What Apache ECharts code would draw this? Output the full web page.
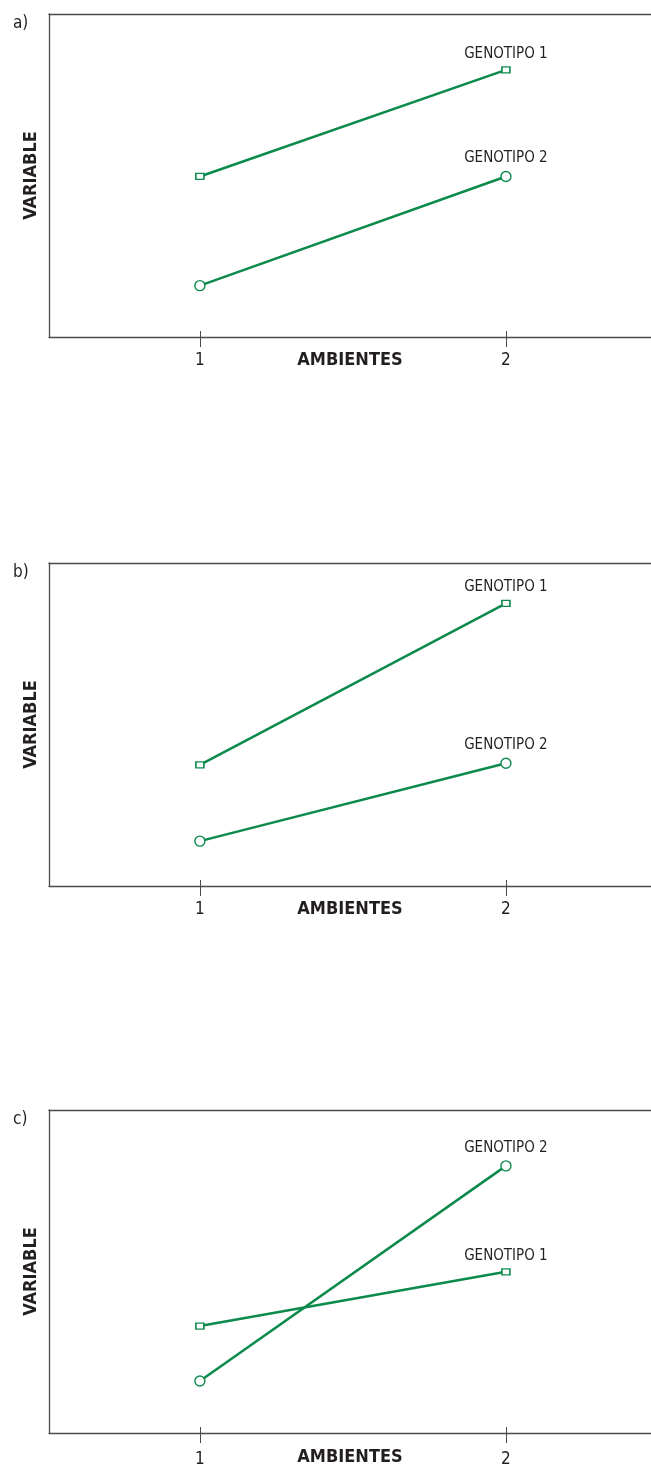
<!DOCTYPE html>
<html>
<head>
<meta charset="utf-8">
<script src="https://cdn.jsdelivr.net/npm/echarts@6/dist/echarts.min.js"></script>
<style>
html,body{margin:0;padding:0;background:#fff;overflow:hidden;}
#chart{width:651px;height:1470px;}
</style>
</head>
<body>
<div id="chart"></div>
<script>
// ---- data ----
var ambientes = [1, 2];
var panelLabels = ['a)', 'b)', 'c)'];
var seriesNames = ['GENOTIPO 1', 'GENOTIPO 2'];
var genotipo1_a = [4.97, 8.27];
var genotipo2_a = [1.59, 4.97];
var genotipo1_b = [3.75, 8.75];
var genotipo2_b = [1.39, 3.80];
var genotipo1_c = [3.31, 4.99];
var genotipo2_c = [1.61, 8.27];
var xTitle = 'AMBIENTES';
var yTitle = 'VARIABLE';

var panelData = [
  [genotipo1_a, genotipo2_a],
  [genotipo1_b, genotipo2_b],
  [genotipo1_c, genotipo2_c]
];

// ---- styling / layout ----
var GREEN = '#0b8a4c';
var TEXT = '#231f20';
var AXIS = '#4a4a4a';
var FONT = "'Liberation Sans Narrow', 'Arial Narrow', 'DejaVu Sans Condensed', sans-serif";
var gridTops = [14, 563, 1110];
var gridHeight = 323;
var labelMargins = [15, 15, 18];
var nameGaps = [14, 14, 15];
var X_MIN = 0.507, X_MAX = 2.474;

var chart = echarts.init(document.getElementById('chart'), null, {renderer: 'canvas'});

var grids = [], xAxes = [], yAxes = [], series = [], titles = [];
gridTops.forEach(function (top, p) {
  grids.push({
    left: 49, right: 0, top: top, height: gridHeight, show: false
  });
  // main x axis: line, labels, name
  xAxes.push({
    type: 'value', gridIndex: p, position: 'bottom', min: X_MIN, max: X_MAX,
    axisLine: {show: true, lineStyle: {color: AXIS, width: 1.3}},
    axisTick: {show: false},
    splitLine: {show: false},
    axisLabel: {show: true, customValues: ambientes, margin: labelMargins[p],
      color: TEXT, fontFamily: FONT, fontSize: 17},
    name: xTitle, nameLocation: 'middle', nameGap: nameGaps[p], nameMoveOverlap: false,
    nameTextStyle: {color: TEXT, fontFamily: FONT, fontSize: 18, fontWeight: 'bold'}
  });
  // tick axis: ticks crossing the axis line
  xAxes.push({
    type: 'value', gridIndex: p, position: 'bottom', offset: 10, min: X_MIN, max: X_MAX,
    axisLine: {show: false},
    axisTick: {show: true, inside: true, length: 16, customValues: ambientes,
      lineStyle: {color: AXIS, width: 1}},
    splitLine: {show: false},
    axisLabel: {show: false}
  });
  // top frame line
  xAxes.push({
    type: 'value', gridIndex: p, position: 'top', min: X_MIN, max: X_MAX,
    axisLine: {show: true, lineStyle: {color: AXIS, width: 1.3}},
    axisTick: {show: false}, axisLabel: {show: false}, splitLine: {show: false}
  });
  yAxes.push({
    type: 'value', gridIndex: p, min: 0, max: 10,
    axisLine: {show: true, lineStyle: {color: AXIS, width: 1.3}},
    axisTick: {show: false}, axisLabel: {show: false}, splitLine: {show: false},
    name: yTitle, nameLocation: 'middle', nameGap: 9, nameRotate: 90,
    nameTextStyle: {color: TEXT, fontFamily: FONT, fontSize: 18, fontWeight: 'bold'}
  });
  titles.push({
    text: panelLabels[p], left: 8, top: top - 4,
    textStyle: {color: TEXT, fontFamily: FONT, fontSize: 17, fontWeight: 'normal'}
  });
  panelData[p].forEach(function (vals, s) {
    series.push({
      type: 'line', name: seriesNames[s],
      xAxisIndex: p * 3, yAxisIndex: p,
      data: ambientes.map(function (a, i) {
        var item = {value: [a, vals[i]]};
        if (i === ambientes.length - 1) {
          item.label = {show: true};
        }
        return item;
      }),
      symbol: s === 0 ? 'rect' : 'circle',
      symbolSize: s === 0 ? [8, 6] : 10,
      showAllSymbol: true,
      lineStyle: {color: GREEN, width: 2.5},
      itemStyle: {color: '#fff', borderColor: GREEN, borderWidth: 1.4},
      label: {show: false, position: 'top', distance: 5, formatter: '{a}',
        color: TEXT, fontFamily: FONT, fontSize: 15},
      emphasis: {disabled: true},
      animation: false,
      z: 3
    });
  });
});

chart.setOption({
  animation: false,
  backgroundColor: '#fff',
  title: titles,
  grid: grids,
  xAxis: xAxes,
  yAxis: yAxes,
  series: series
});
</script>
</body>
</html>
